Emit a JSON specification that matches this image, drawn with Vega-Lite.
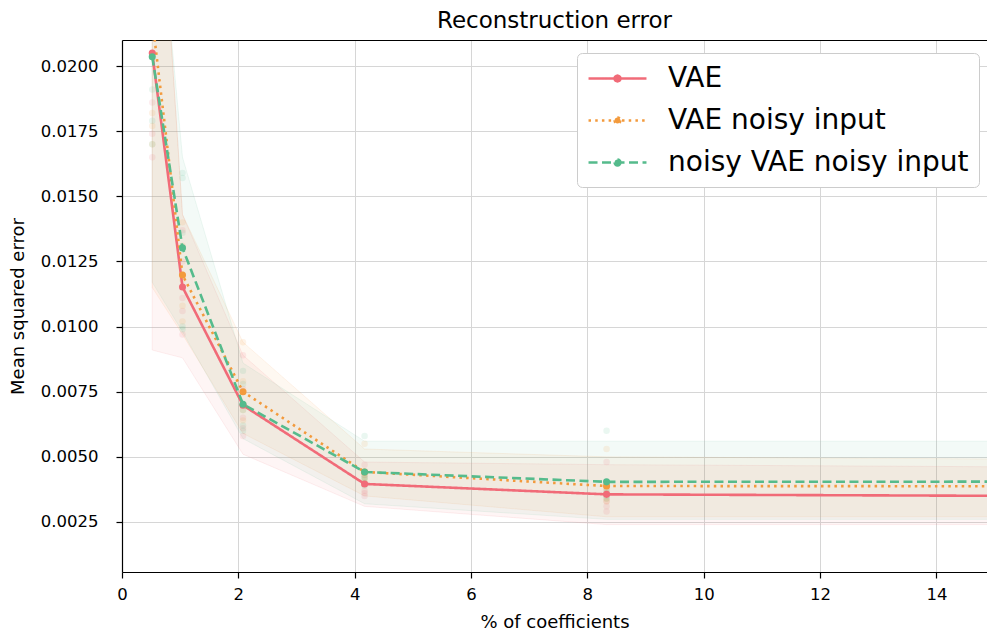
{
  "$schema": "https://vega.github.io/schema/vega-lite/v6.json",
  "width": 865,
  "height": 532,
  "autosize": {"type": "none"},
  "padding": {"left": 122, "top": 40, "right": 0, "bottom": 61},
  "background": "white",
  "title": {"text": "Reconstruction error", "fontSize": 23, "fontWeight": "normal", "font": "DejaVu Sans", "color": "black", "offset": 7},
  "config": {
    "font": "DejaVu Sans",
    "view": {"stroke": null},
    "axis": {
      "labelFont": "DejaVu Sans", "titleFont": "DejaVu Sans",
      "labelFontSize": 16.5, "titleFontSize": 18, "titleFontWeight": "normal",
      "labelColor": "black", "titleColor": "black",
      "domainColor": "black", "domainWidth": 1.2, "tickColor": "black", "tickWidth": 1.2, "tickSize": 6,
      "gridColor": "#d6d6d6", "gridWidth": 1
    }
  },
  "datasets": {
    "means": [
      {"pct": 0.52, "series": "VAE", "mse": 0.0205},
      {"pct": 1.04, "series": "VAE", "mse": 0.01152},
      {"pct": 2.08, "series": "VAE", "mse": 0.00698},
      {"pct": 4.17, "series": "VAE", "mse": 0.00396},
      {"pct": 8.33, "series": "VAE", "mse": 0.00356},
      {"pct": 16.67, "series": "VAE", "mse": 0.00349},
      {"pct": 0.52, "series": "VAE noisy input", "mse": 0.0218},
      {"pct": 1.04, "series": "VAE noisy input", "mse": 0.01198},
      {"pct": 2.08, "series": "VAE noisy input", "mse": 0.0075},
      {"pct": 4.17, "series": "VAE noisy input", "mse": 0.00442},
      {"pct": 8.33, "series": "VAE noisy input", "mse": 0.00388},
      {"pct": 16.67, "series": "VAE noisy input", "mse": 0.00387},
      {"pct": 0.52, "series": "noisy VAE noisy input", "mse": 0.02036},
      {"pct": 1.04, "series": "noisy VAE noisy input", "mse": 0.01302},
      {"pct": 2.08, "series": "noisy VAE noisy input", "mse": 0.00702},
      {"pct": 4.17, "series": "noisy VAE noisy input", "mse": 0.00442},
      {"pct": 8.33, "series": "noisy VAE noisy input", "mse": 0.00404},
      {"pct": 16.67, "series": "noisy VAE noisy input", "mse": 0.00405}
    ],
    "bands": [
      {"pct": 0.52, "series": "VAE", "lo": 0.0091, "hi": 0.032},
      {"pct": 1.04, "series": "VAE", "lo": 0.0088, "hi": 0.0143},
      {"pct": 2.08, "series": "VAE", "lo": 0.0051, "hi": 0.0089},
      {"pct": 4.17, "series": "VAE", "lo": 0.0031, "hi": 0.0048},
      {"pct": 8.33, "series": "VAE", "lo": 0.0024, "hi": 0.0047},
      {"pct": 16.67, "series": "VAE", "lo": 0.0024, "hi": 0.0046},
      {"pct": 0.52, "series": "VAE noisy input", "lo": 0.0115, "hi": 0.032},
      {"pct": 1.04, "series": "VAE noisy input", "lo": 0.0097, "hi": 0.0143},
      {"pct": 2.08, "series": "VAE noisy input", "lo": 0.0059, "hi": 0.0094},
      {"pct": 4.17, "series": "VAE noisy input", "lo": 0.0035, "hi": 0.0053},
      {"pct": 8.33, "series": "VAE noisy input", "lo": 0.0027, "hi": 0.005},
      {"pct": 16.67, "series": "VAE noisy input", "lo": 0.0027, "hi": 0.0049},
      {"pct": 0.52, "series": "noisy VAE noisy input", "lo": 0.0117, "hi": 0.029},
      {"pct": 1.04, "series": "noisy VAE noisy input", "lo": 0.0098, "hi": 0.0165},
      {"pct": 2.08, "series": "noisy VAE noisy input", "lo": 0.0057, "hi": 0.0086},
      {"pct": 4.17, "series": "noisy VAE noisy input", "lo": 0.0032, "hi": 0.0056},
      {"pct": 8.33, "series": "noisy VAE noisy input", "lo": 0.0026, "hi": 0.0056},
      {"pct": 16.67, "series": "noisy VAE noisy input", "lo": 0.0026, "hi": 0.0056}
    ],
    "runs": [
      {"pct": 0.52, "series": "VAE", "mse": 0.0174},
      {"pct": 0.52, "series": "VAE", "mse": 0.0165},
      {"pct": 0.52, "series": "VAE", "mse": 0.0186},
      {"pct": 0.52, "series": "VAE", "mse": 0.024},
      {"pct": 0.52, "series": "VAE", "mse": 0.026},
      {"pct": 0.52, "series": "VAE noisy input", "mse": 0.0182},
      {"pct": 0.52, "series": "VAE noisy input", "mse": 0.017},
      {"pct": 0.52, "series": "VAE noisy input", "mse": 0.0177},
      {"pct": 0.52, "series": "VAE noisy input", "mse": 0.027},
      {"pct": 0.52, "series": "VAE noisy input", "mse": 0.029},
      {"pct": 0.52, "series": "noisy VAE noisy input", "mse": 0.0191},
      {"pct": 0.52, "series": "noisy VAE noisy input", "mse": 0.0179},
      {"pct": 0.52, "series": "noisy VAE noisy input", "mse": 0.017},
      {"pct": 0.52, "series": "noisy VAE noisy input", "mse": 0.024},
      {"pct": 0.52, "series": "noisy VAE noisy input", "mse": 0.0238},
      {"pct": 1.04, "series": "VAE", "mse": 0.0111},
      {"pct": 1.04, "series": "VAE", "mse": 0.0106},
      {"pct": 1.04, "series": "VAE", "mse": 0.0097},
      {"pct": 1.04, "series": "VAE", "mse": 0.0125},
      {"pct": 1.04, "series": "VAE", "mse": 0.0137},
      {"pct": 1.04, "series": "VAE noisy input", "mse": 0.014},
      {"pct": 1.04, "series": "VAE noisy input", "mse": 0.0108},
      {"pct": 1.04, "series": "VAE noisy input", "mse": 0.0102},
      {"pct": 1.04, "series": "VAE noisy input", "mse": 0.0118},
      {"pct": 1.04, "series": "VAE noisy input", "mse": 0.0131},
      {"pct": 1.04, "series": "noisy VAE noisy input", "mse": 0.0159},
      {"pct": 1.04, "series": "noisy VAE noisy input", "mse": 0.0157},
      {"pct": 1.04, "series": "noisy VAE noisy input", "mse": 0.0136},
      {"pct": 1.04, "series": "noisy VAE noisy input", "mse": 0.01},
      {"pct": 1.04, "series": "noisy VAE noisy input", "mse": 0.0099},
      {"pct": 2.08, "series": "VAE", "mse": 0.0089},
      {"pct": 2.08, "series": "VAE", "mse": 0.0065},
      {"pct": 2.08, "series": "VAE", "mse": 0.0061},
      {"pct": 2.08, "series": "VAE", "mse": 0.0058},
      {"pct": 2.08, "series": "VAE", "mse": 0.0076},
      {"pct": 2.08, "series": "VAE noisy input", "mse": 0.0094},
      {"pct": 2.08, "series": "VAE noisy input", "mse": 0.0079},
      {"pct": 2.08, "series": "VAE noisy input", "mse": 0.0068},
      {"pct": 2.08, "series": "VAE noisy input", "mse": 0.0064},
      {"pct": 2.08, "series": "VAE noisy input", "mse": 0.007},
      {"pct": 2.08, "series": "noisy VAE noisy input", "mse": 0.0083},
      {"pct": 2.08, "series": "noisy VAE noisy input", "mse": 0.0068},
      {"pct": 2.08, "series": "noisy VAE noisy input", "mse": 0.0062},
      {"pct": 2.08, "series": "noisy VAE noisy input", "mse": 0.006},
      {"pct": 2.08, "series": "noisy VAE noisy input", "mse": 0.0078},
      {"pct": 4.17, "series": "VAE", "mse": 0.0047},
      {"pct": 4.17, "series": "VAE", "mse": 0.0037},
      {"pct": 4.17, "series": "VAE", "mse": 0.0035},
      {"pct": 4.17, "series": "VAE", "mse": 0.0036},
      {"pct": 4.17, "series": "VAE", "mse": 0.0043},
      {"pct": 4.17, "series": "VAE noisy input", "mse": 0.0055},
      {"pct": 4.17, "series": "VAE noisy input", "mse": 0.0042},
      {"pct": 4.17, "series": "VAE noisy input", "mse": 0.004},
      {"pct": 4.17, "series": "VAE noisy input", "mse": 0.0043},
      {"pct": 4.17, "series": "VAE noisy input", "mse": 0.0041},
      {"pct": 4.17, "series": "noisy VAE noisy input", "mse": 0.0058},
      {"pct": 4.17, "series": "noisy VAE noisy input", "mse": 0.0042},
      {"pct": 4.17, "series": "noisy VAE noisy input", "mse": 0.0039},
      {"pct": 4.17, "series": "noisy VAE noisy input", "mse": 0.004},
      {"pct": 4.17, "series": "noisy VAE noisy input", "mse": 0.0042},
      {"pct": 8.33, "series": "VAE", "mse": 0.0048},
      {"pct": 8.33, "series": "VAE", "mse": 0.0031},
      {"pct": 8.33, "series": "VAE", "mse": 0.0029},
      {"pct": 8.33, "series": "VAE", "mse": 0.0033},
      {"pct": 8.33, "series": "VAE", "mse": 0.0037},
      {"pct": 8.33, "series": "VAE noisy input", "mse": 0.0053},
      {"pct": 8.33, "series": "VAE noisy input", "mse": 0.0034},
      {"pct": 8.33, "series": "VAE noisy input", "mse": 0.0033},
      {"pct": 8.33, "series": "VAE noisy input", "mse": 0.0036},
      {"pct": 8.33, "series": "VAE noisy input", "mse": 0.0038},
      {"pct": 8.33, "series": "noisy VAE noisy input", "mse": 0.006},
      {"pct": 8.33, "series": "noisy VAE noisy input", "mse": 0.0035},
      {"pct": 8.33, "series": "noisy VAE noisy input", "mse": 0.0034},
      {"pct": 8.33, "series": "noisy VAE noisy input", "mse": 0.0037},
      {"pct": 8.33, "series": "noisy VAE noisy input", "mse": 0.0036}
    ]
  },
  "layer": [
    {
      "data": {"name": "bands"},
      "mark": {"type": "area", "clip": true, "fillOpacity": 0.07, "strokeOpacity": 0.12, "strokeWidth": 1},
      "encoding": {
        "x": {"field": "pct", "type": "quantitative",
              "scale": {"domain": [0, 14.87], "nice": false, "zero": false},
              "axis": {"title": "% of coefficients", "values": [0, 2, 4, 6, 8, 10, 12, 14], "labelPadding": 8, "titlePadding": 11, "labelFlush": false, "grid": true}},
        "y": {"field": "lo", "type": "quantitative",
              "scale": {"domain": [0.00058, 0.021], "nice": false, "zero": false},
              "axis": {"title": "Mean squared error", "values": [0.0025, 0.005, 0.0075, 0.01, 0.0125, 0.015, 0.0175, 0.02], "format": ".4f", "labelPadding": 18, "titlePadding": 13, "labelFlush": false, "grid": true}},
        "y2": {"field": "hi"},
        "color": {"field": "series", "type": "nominal"},
        "stroke": {"field": "series", "type": "nominal", "legend": null, "scale": {"domain": ["VAE", "VAE noisy input", "noisy VAE noisy input"], "range": ["#f07a86", "#f4a862", "#7cc7a8"]}}
      }
    },
    {
      "data": {"name": "runs"},
      "mark": {"type": "point", "filled": true, "clip": true, "size": 42, "opacity": 0.12},
      "encoding": {
        "x": {"field": "pct", "type": "quantitative", "axis": null},
        "y": {"field": "mse", "type": "quantitative"},
        "color": {"field": "series", "type": "nominal"}
      }
    },
    {
      "data": {"name": "means"},
      "mark": {"type": "line", "clip": true, "strokeWidth": 2.6},
      "encoding": {
        "x": {"field": "pct", "type": "quantitative", "axis": null},
        "y": {"field": "mse", "type": "quantitative"},
        "color": {"field": "series", "type": "nominal",
                  "scale": {"domain": ["VAE", "VAE noisy input", "noisy VAE noisy input"], "range": ["#f16b78", "#f39a3c", "#55bb8c"]},
                  "legend": {
                    "title": null, "orient": "none", "legendX": 455, "legendY": 13,
                    "symbolType": "M-2.07,0H2.07M0.21,0A0.21,0.21 0 1,1 -0.21,0A0.21,0.21 0 1,1 0.21,0Z",
                    "symbolSize": 784, "symbolStrokeWidth": 2.5, "symbolOpacity": 1, "symbolOffset": 15,
                    "labelFont": "DejaVu Sans", "labelFontSize": 28, "labelColor": "black", "labelOffset": 35, "labelLimit": 400,
                    "fillColor": "white", "strokeColor": "#cccccc", "cornerRadius": 5, "padding": 10, "rowPadding": 12,
                    "encode": {"symbols": {"update": {"fill": {"scale": "color", "field": "value"}, "fillOpacity": {"value": 1}}}}
                  }},
        "strokeDash": {"field": "series", "type": "nominal",
                       "scale": {"domain": ["VAE", "VAE noisy input", "noisy VAE noisy input"], "range": [[1, 0], [2.5, 4.2], [9, 4.5]]}}
      }
    },
    {
      "data": {"name": "means"},
      "mark": {"type": "point", "filled": true, "clip": true, "size": 50, "opacity": 1},
      "encoding": {
        "x": {"field": "pct", "type": "quantitative",
              "axis": {"orient": "top", "labels": false, "ticks": false, "grid": false, "title": null, "domain": true}},
        "y": {"field": "mse", "type": "quantitative"},
        "color": {"field": "series", "type": "nominal"}
      }
    }
  ],
  "resolve": {"axis": {"x": "independent"}, "scale": {"stroke": "independent"}}
}
